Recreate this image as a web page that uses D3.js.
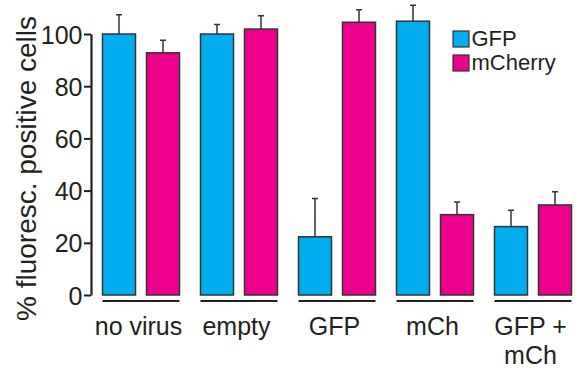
<!DOCTYPE html>
<html>
<head>
<meta charset="utf-8">
<script src="https://cdn.jsdelivr.net/npm/d3@7"></script>
<style>
  body { margin: 0; background: #fff; }
  text { font-family: "Liberation Sans", Arial, sans-serif; fill: #231f20; }
</style>
</head>
<body>
<script>
var categories = ["no virus", "empty", "GFP", "mCh", "GFP +\nmCh"];
var series = ["GFP", "mCherry"];
var gfpValues = [100, 100, 22.3, 104.9, 26.2];
var gfpErrors = [7.4, 3.6, 14.7, 6.1, 6.3];
var mcherryValues = [92.8, 101.9, 104.5, 30.8, 34.5];
var mcherryErrors = [4.8, 5.1, 4.8, 4.8, 5.1];
var yTicks = [0, 20, 40, 60, 80, 100];
var colors = ["#00aeef", "#ec008c"];

var w = 576, h = 369;
var svg = d3.select("body").append("svg")
  .attr("width", w)
  .attr("height", h);

var x0 = d3.scaleBand()
  .domain(categories)
  .range([102.5, 571.5])
  .paddingInner(21 / 98)
  .paddingOuter(0);

var x1 = d3.scaleBand()
  .domain(series)
  .range([0, x0.bandwidth()])
  .paddingInner(0.25);

var y = d3.scaleLinear()
  .domain([0, 100])
  .range([295, 34]);

// rows of data, one per category
var rows = categories.map(function(c, i){
  return {
    cat: c,
    bars: [
      {s: "GFP", v: gfpValues[i], e: gfpErrors[i], color: colors[0]},
      {s: "mCherry", v: mcherryValues[i], e: mcherryErrors[i], color: colors[1]}
    ]
  };
});

var groups = svg.selectAll(".group")
  .data(rows)
  .enter().append("g")
  .attr("class", "group")
  .attr("transform", function(d){ return "translate(" + x0(d.cat) + ",0)"; });

// error bars (drawn first so bar outline sits on top)
groups.selectAll(".err")
  .data(function(d){ return d.bars; })
  .enter().append("path")
  .attr("class", "err")
  .attr("fill", "none")
  .attr("stroke", "#333")
  .attr("stroke-width", 1.5)
  .attr("d", function(d){
    var cx = x1(d.s) + x1.bandwidth() / 2;
    var top = y(d.v + d.e);
    return "M" + cx + "," + y(d.v) + "V" + top + "M" + (cx - 3) + "," + top + "H" + (cx + 3);
  });

groups.selectAll(".bar")
  .data(function(d){ return d.bars; })
  .enter().append("rect")
  .attr("class", "bar")
  .attr("x", function(d){ return x1(d.s); })
  .attr("y", function(d){ return y(d.v); })
  .attr("width", x1.bandwidth())
  .attr("height", function(d){ return y(0) - y(d.v); })
  .attr("fill", function(d){ return d.color; })
  .attr("stroke", "#333")
  .attr("stroke-width", 1.5);

// group underline
groups.append("line")
  .attr("x1", 0)
  .attr("x2", x0.bandwidth())
  .attr("y1", 301)
  .attr("y2", 301)
  .attr("stroke", "#231f20")
  .attr("stroke-width", 2.2);

// category labels (sit a little left of the group centre, as in the figure)
var lab = groups.append("text")
  .attr("text-anchor", "middle")
  .attr("font-size", 25)
  .attr("y", 335);
lab.selectAll("tspan")
  .data(function(d){ return d.cat.split("\n"); })
  .enter().append("tspan")
  .attr("x", x0.bandwidth() / 2 - 2.5)
  .attr("dy", function(d, i){ return i ? 29 : 0; })
  .text(function(d){ return d; });

// y axis
var yAxis = svg.append("g")
  .attr("transform", "translate(91,0)")
  .call(d3.axisLeft(y).tickValues(yTicks).tickSize(7).tickPadding(1.5).tickSizeOuter(0));
yAxis.select(".domain").attr("stroke", "#231f20").attr("stroke-width", 2.2);
yAxis.selectAll(".tick line").attr("stroke", "#231f20").attr("stroke-width", 2);
yAxis.selectAll(".tick text")
  .attr("font-size", 25)
  .attr("font-family", "Liberation Sans, Arial, sans-serif")
  .attr("fill", "#231f20")
  .attr("dy", "0.36em");

svg.append("text")
  .attr("transform", "translate(35.5,168.5) rotate(-90)")
  .attr("text-anchor", "middle")
  .attr("font-size", 28)
  .text("% fluoresc. positive cells");

// legend
var legend = svg.append("g").attr("transform", "translate(453,31)");
var li = legend.selectAll(".li")
  .data(series)
  .enter().append("g")
  .attr("transform", function(d, i){ return "translate(0," + (i * 24) + ")"; });
li.append("rect")
  .attr("width", 16)
  .attr("height", 16)
  .attr("fill", function(d, i){ return colors[i]; })
  .attr("stroke", "#333")
  .attr("stroke-width", 1.2);
li.append("text")
  .attr("x", 18.5)
  .attr("y", 15)
  .attr("font-size", 22)
  .text(function(d){ return d; });
</script>
</body>
</html>
